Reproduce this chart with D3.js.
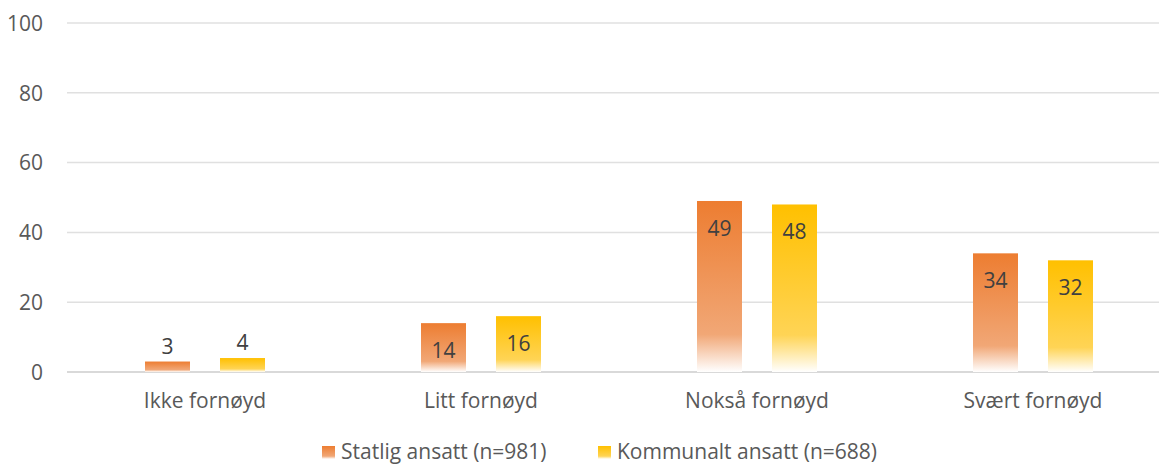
<!DOCTYPE html>
<html>
<head>
<meta charset="utf-8">
<script src="https://cdn.jsdelivr.net/npm/d3@7/dist/d3.min.js"></script>
<style>
  html, body { margin: 0; padding: 0; background: #fff; }
  svg { display: block; }
  text { font-family: "Open Sans", sans-serif; }
</style>
</head>
<body>
<svg id="chart" width="1159" height="465"></svg>
<script>
// Satisfaction by employment type (percent)
const categories = ["Ikke fornøyd", "Litt fornøyd", "Nokså fornøyd", "Svært fornøyd"];
const seriesNames = ["Statlig ansatt (n=981)", "Kommunalt ansatt (n=688)"];
const statlig = [3, 14, 49, 34];
const kommunal = [4, 16, 48, 32];
const yTicks = [0, 20, 40, 60, 80, 100];

const seriesValues = [statlig, kommunal];
const colors = ["#ED7D31", "#FFC000"];
const lightColors = ["#F1A776", "#FFD455"];

const svg = d3.select("#chart");
const W = 1159, H = 465;
const plot = { left: 67, right: 1171, top: 23, bottom: 372 };
const fontSize = 21;

const x0 = d3.scaleBand().domain(categories).range([plot.left, plot.right]).padding(0);
const groupW = 120;
const x1 = d3.scaleBand().domain(d3.range(seriesNames.length)).range([0, groupW]).paddingInner(0.4).paddingOuter(0);
const y = d3.scaleLinear().domain([0, 100]).range([plot.bottom, plot.top]);

// gradients: solid at top, fading to white at the base
const defs = svg.append("defs");
colors.forEach((c, i) => {
  const g = defs.append("linearGradient")
    .attr("id", "grad" + i)
    .attr("x1", 0).attr("y1", 0).attr("x2", 0).attr("y2", 1);
  g.append("stop").attr("offset", "0%").attr("stop-color", c);
  g.append("stop").attr("offset", "78%").attr("stop-color", lightColors[i]);
  g.append("stop").attr("offset", "100%").attr("stop-color", "#FFFFFF");
});

// gridlines
const grid = svg.append("g");
grid.selectAll("line")
  .data(yTicks)
  .join("line")
  .attr("x1", plot.left).attr("x2", W)
  .attr("y1", d => y(d)).attr("y2", d => y(d))
  .attr("stroke", d => d === 0 ? "#D9D9D9" : "#E0E0E0")
  .attr("stroke-width", d => d === 0 ? 2 : 1.5);

// y axis labels
const yAxis = d3.axisLeft(y).tickValues(yTicks).tickSize(0).tickPadding(0);
const yg = svg.append("g").attr("transform", `translate(43,0)`).call(yAxis);
yg.select(".domain").remove();
yg.selectAll("text")
  .attr("font-family", "Open Sans, sans-serif")
  .attr("font-size", fontSize)
  .attr("fill", "#595959")
  .attr("dy", "0.35em");

// x axis labels
const xAxis = d3.axisBottom(x0).tickSize(0).tickPadding(0);
const xg = svg.append("g").attr("transform", `translate(0,${plot.bottom})`).call(xAxis);
xg.select(".domain").remove();
xg.selectAll("text")
  .attr("font-family", "Open Sans, sans-serif")
  .attr("font-size", fontSize)
  .attr("fill", "#595959")
  .attr("dy", null)
  .attr("y", 36);

// bars
const data = [];
categories.forEach((c, ci) => {
  seriesValues.forEach((vals, si) => data.push({ c, si, v: vals[ci] }));
});
const groupX = c => x0(c) + (x0.bandwidth() - groupW) / 2;

svg.append("g").selectAll("rect")
  .data(data)
  .join("rect")
  .attr("x", d => groupX(d.c) + x1(d.si))
  .attr("y", d => y(d.v))
  .attr("width", x1.bandwidth())
  .attr("height", d => y(0) - y(d.v))
  .attr("fill", d => `url(#grad${d.si})`);

// value labels: inside end for tall bars, above for short ones
svg.append("g").selectAll("text")
  .data(data)
  .join("text")
  .attr("x", d => groupX(d.c) + x1(d.si) + x1.bandwidth() / 2)
  .attr("y", d => (y(0) - y(d.v)) > 40 ? y(d.v) + 35 : y(d.v) - 8)
  .attr("text-anchor", "middle")
  .attr("font-size", fontSize)
  .attr("fill", "#404040")
  .text(d => d.v);

// legend
const legendX = [322, 598];
const lg = svg.append("g");
seriesNames.forEach((name, i) => {
  lg.append("rect")
    .attr("x", legendX[i]).attr("y", 446)
    .attr("width", 13).attr("height", 13)
    .attr("fill", `url(#grad${i})`);
  lg.append("text")
    .attr("x", legendX[i] + 19).attr("y", 459)
    .attr("font-size", fontSize)
    .attr("fill", "#595959")
    .text(name);
});
</script>
</body>
</html>
